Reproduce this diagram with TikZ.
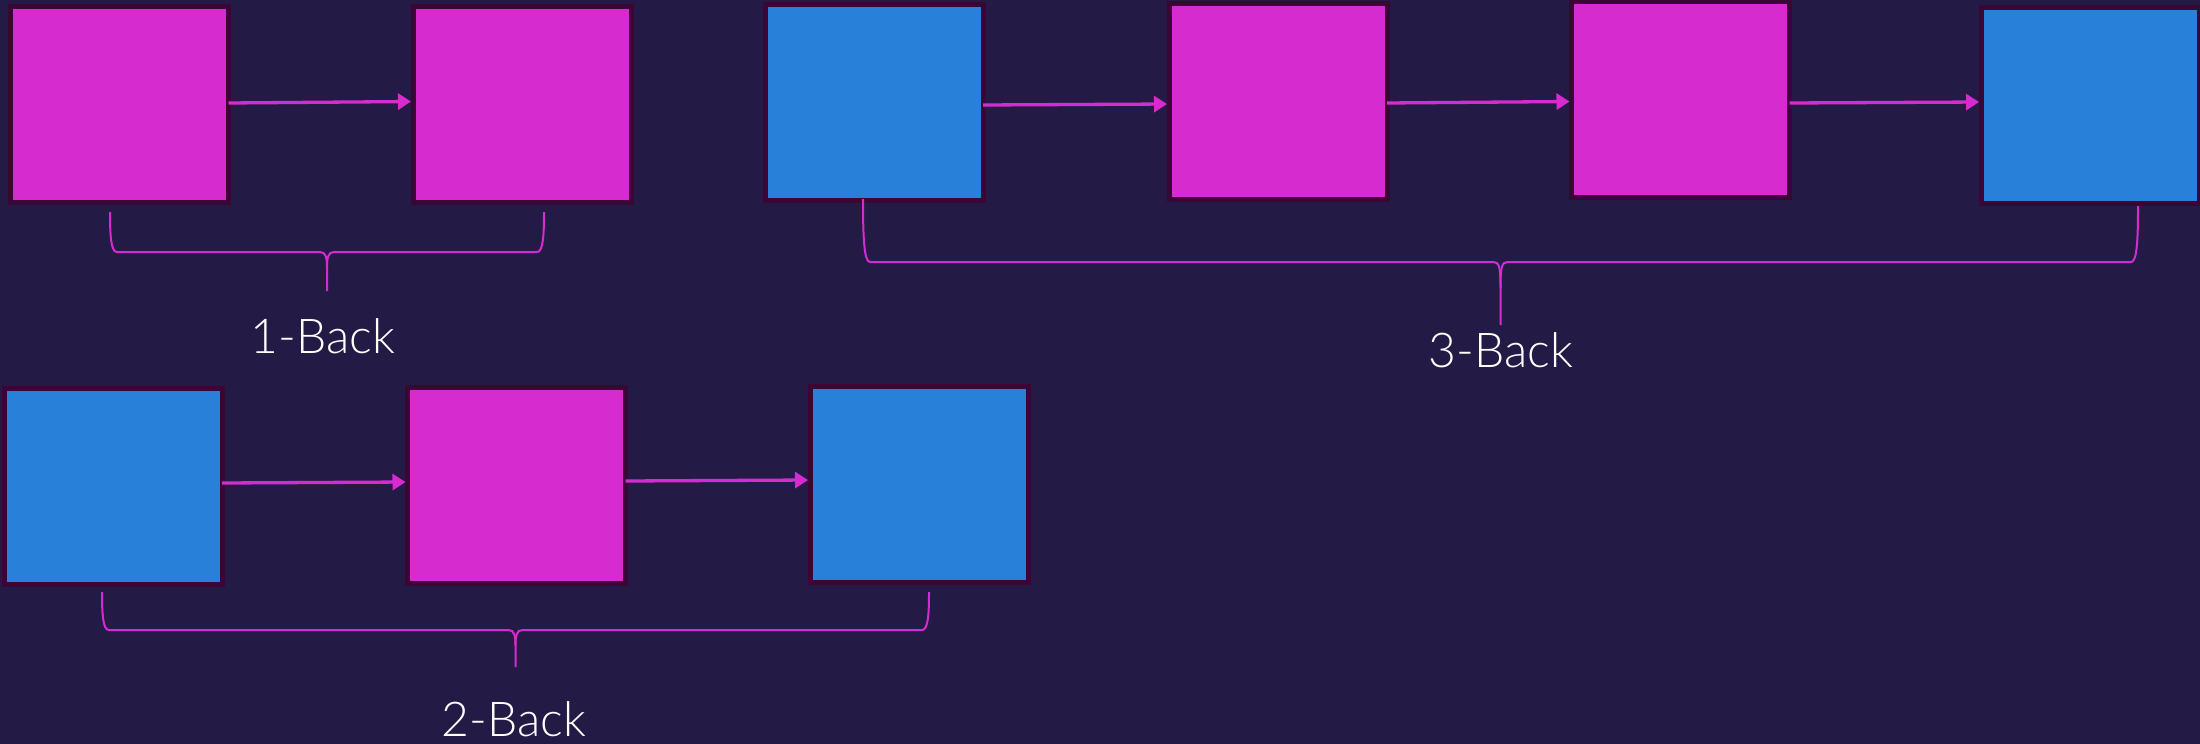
\documentclass[tikz,border=0pt]{standalone}
\usepackage{fontspec}
\setmainfont{Lato}[UprightFont=* Light]
\usetikzlibrary{arrows.meta}

\definecolor{bgnavy}{HTML}{241A46}
\definecolor{cellpink}{HTML}{D62BCF}
\definecolor{cellblue}{HTML}{2980D9}
\definecolor{cellrim}{HTML}{3A0636}
\definecolor{linkpink}{HTML}{D62BCF}

\tikzset{
  cell/.style={draw=cellrim, line width=5pt, minimum width=218pt,
    minimum height=196pt, inner sep=0pt, outer sep=0pt},
  pinkcell/.style={cell, fill=cellpink},
  bluecell/.style={cell, fill=cellblue},
  link/.style={draw=linkpink, line width=3.3pt, shorten >=2pt,
    -{Triangle[length=13pt,width=16pt]}},
  bracepen/.style={draw=linkpink, line width=2pt},
  lbl/.style={text=white, font=\fontsize{48}{58}\selectfont,
    inner sep=0pt, anchor=base}
}

% curly brace: left end (#1,#2), right end (#3,#4), bar height #5, tip #6
\newcommand\backbrace[6]{%
  \pgfmathsetmacro\bbxc{(#1+#3)/2}%
  \pgfmathsetmacro\bbmid{#5+0.42*(#6-#5)}%
  \pgfmathsetmacro\bbarmL{#2+0.6*(#5-#2)}%
  \pgfmathsetmacro\bbarmR{#4+0.6*(#5-#4)}%
  \draw[bracepen] (#1,#2) .. controls (#1,\bbarmL) and (#1+1,#5) .. (#1+7,#5)
    -- (\bbxc-7,#5) .. controls (\bbxc-1,#5) and (\bbxc,#5+6) .. (\bbxc,\bbmid)
    -- (\bbxc,#6);
  \draw[bracepen] (#3,#4) .. controls (#3,\bbarmR) and (#3-1,#5) .. (#3-7,#5)
    -- (\bbxc+7,#5) .. controls (\bbxc+1,#5) and (\bbxc,#5+6) .. (\bbxc,\bbmid);
}

\begin{document}
\begin{tikzpicture}[x=1pt,y=-1pt]
  \fill[bgnavy] (0,0) rectangle (2200,744);
  \useasboundingbox (0,0) rectangle (2200,744);

  % 1-Back
  \node[pinkcell] (a1) at (119.5,104.5) {};
  \node[pinkcell] (a2) at (522,104.5) {};
  \draw[link] ([yshift=1.5pt]a1.east) -- ([yshift=3pt]a2.west);
  \backbrace{110}{212}{544}{212}{252}{291}
  \node[lbl] (t1) at (323,353) {1-Back};

  % 3-Back
  \node[bluecell] (b1) at (874,102) {};
  \node[pinkcell] (b2) at (1278,101.5) {};
  \node[pinkcell] (b3) at (1680.5,99.5) {};
  \node[bluecell] (b4) at (2090,105) {};
  \draw[link] ([yshift=-3pt]b1.east) -- ([yshift=-2.5pt]b2.west);
  \draw[link] ([yshift=-1.5pt]b2.east) -- ([yshift=-2pt]b3.west);
  \draw[link] ([yshift=-3.5pt]b3.east) -- ([yshift=3pt]b4.west);
  \backbrace{863}{199}{2138}{206}{262}{325}
  \node[lbl] (t3) at (1501,367) {3-Back};

  % 2-Back
  \node[bluecell] (c1) at (113,486) {};
  \node[pinkcell] (c2) at (516.5,485) {};
  \node[bluecell] (c3) at (919,484.5) {};
  \draw[link] ([yshift=3pt]c1.east) -- ([yshift=3pt]c2.west);
  \draw[link] ([yshift=4pt]c2.east) -- ([yshift=4.5pt]c3.west);
  \backbrace{102}{592}{929}{592}{630}{667}
  \node[lbl] (t2) at (514,736) {2-Back};
\end{tikzpicture}
\end{document}
